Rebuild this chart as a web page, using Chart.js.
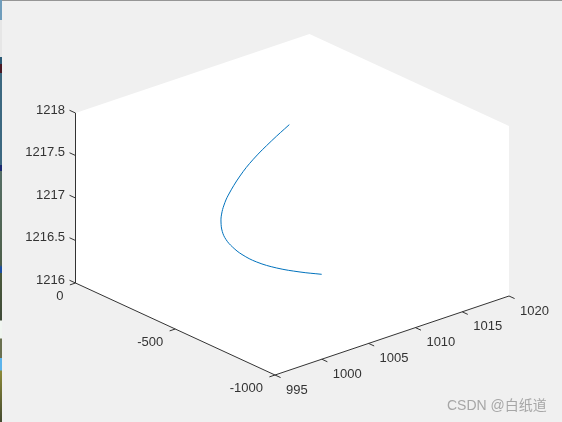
<!DOCTYPE html>
<html>
<head>
<meta charset="utf-8">
<style>
html,body{margin:0;padding:0;background:#f0f0f0;overflow:hidden}
#wrap{position:relative;width:562px;height:422px}
canvas{display:block}
#top{position:absolute;left:0;top:0;width:562px;height:1px;background:#969696}
#left{position:absolute;left:0;top:0;width:2px;height:422px;background:linear-gradient(to bottom,
  #6f9dbc 0,#6f9dbc 20px,#e6e6e6 20px,#e6e6e6 57px,#2b5a75 57px,#2b5a75 64px,#4a1a24 64px,#4a1a24 73px,
  #3c6880 73px,#3c6880 165px,#1a2a70 165px,#1a2a70 171px,#566f66 171px,#4d5f4a 265px,#1c4fa0 267px,#1c4fa0 273px,
  #4a5a3c 273px,#3f4a38 320px,#f0f5f0 321px,#f0f5f0 338px,#6a7050 339px,#6a7050 358px,#5cb4ec 358px,#5cb4ec 370px,
  #8c8a38 371px,#444a30 422px)}
</style>
<script src="https://cdn.jsdelivr.net/npm/chart.js@4"></script>
</head>
<body>
<div id="wrap"><canvas id="c" width="562" height="422"></canvas><div id="top"></div><div id="left"></div></div>
<script>
// Axis values
const xTicks = [995, 1000, 1005, 1010, 1015, 1020];
const yTicks = [0, -500, -1000];
const zTicks = [1216, 1216.5, 1217, 1217.5, 1218];
const xTickLabels = ['995', '1000', '1005', '1010', '1015', '1020'];
const yTickLabels = ['0', '-500', '-1000'];
const zTickLabels = ['1216', '1216.5', '1217', '1217.5', '1218'];

// Curve values
const curveX = [1010, 1010, 1010, 1010, 1010, 1010, 1010, 1009.86, 1009.24, 1008.62, 1008.25, 1008.06, 1008.19, 1008.85, 1009.98, 1011.12];
const curveY = [-368, -279.7, -187.5, -120.8, -62.2, -40.6, -28.6, -32.1, -67.7, -115.4, -165.3, -221.9, -289.4, -358.7, -422.6, -477.7];
const curveZ = [1217.704, 1217.419, 1217.101, 1216.832, 1216.544, 1216.403, 1216.284, 1216.2, 1216.15, 1216.13, 1216.11, 1216.09, 1216.07, 1216.05, 1216.03, 1216.02];

const watermark = 'CSDN @白纸道';

// View projection of the 3-D axes onto the figure plane
const view = {ox: 75.5, oy: 283, xx: 9.36, xy: -3.16, yx: -0.1995, yy: -0.092, zy: -85, x0: 995, y0: 0, z0: 1216};
function project(x, y, z) {
  const dx = x - view.x0, dy = y - view.y0, dz = z - view.z0;
  return {x: view.ox + view.xx * dx + view.yx * dy, y: view.oy + view.xy * dx + view.yy * dy + view.zy * dz};
}
const xMin = xTicks[0], xMax = xTicks[xTicks.length - 1];
const yMax = yTicks[0], yMin = yTicks[yTicks.length - 1];
const zMin = zTicks[0], zMax = zTicks[zTicks.length - 1];

const curvePoints = curveX.map((x, i) => project(x, curveY[i], curveZ[i]));
const edgePoints = [
  project(xMin, yMax, zMax), project(xMin, yMax, zMin), project(xMin, yMin, zMin), project(xMax, yMin, zMin)
];
const tickPoints = [];
const gap = {x: NaN, y: NaN};
xTicks.forEach(t => tickPoints.push(project(t, yMin, zMin), project(t, yMin - 28, zMin), gap));
yTicks.forEach(t => tickPoints.push(project(xMin, t, zMin), project(xMin - 0.6, t, zMin), gap));
zTicks.forEach(t => tickPoints.push(project(xMin, yMax, t), project(xMin, yMax + 30, t), gap));

const backdrop = [
  project(xMin, yMax, zMax), project(xMax, yMax, zMax), project(xMax, yMin, zMax),
  project(xMax, yMin, zMin), project(xMin, yMin, zMin), project(xMin, yMax, zMin)
];

const axesPlugin = {
  id: 'axes3d',
  beforeDatasetsDraw(chart) {
    const {ctx, scales: {x: sx, y: sy}} = chart;
    ctx.save();
    ctx.fillStyle = '#ffffff';
    ctx.beginPath();
    backdrop.forEach((p, i) => {
      const px = sx.getPixelForValue(p.x), py = sy.getPixelForValue(p.y);
      i ? ctx.lineTo(px, py) : ctx.moveTo(px, py);
    });
    ctx.closePath();
    ctx.fill();
    ctx.restore();
  },
  afterDatasetsDraw(chart) {
    const {ctx, scales: {x: sx, y: sy}} = chart;
    ctx.save();
    ctx.font = '13px "Liberation Sans", Arial, sans-serif';
    ctx.fillStyle = '#333333';
    ctx.textBaseline = 'middle';
    const put = (p, dx, dy, s, align) => {
      ctx.textAlign = align;
      ctx.fillText(s, sx.getPixelForValue(p.x) + dx, sy.getPixelForValue(p.y) + dy);
    };
    zTicks.forEach((t, i) => put(project(xMin, yMax, t), -10.5, -3, zTickLabels[i], 'right'));
    yTicks.forEach((t, i) => put(project(xMin, t, zMin), -12, 13.7, yTickLabels[i], 'right'));
    xTicks.forEach((t, i) => put(project(t, yMin, zMin), 11, 15, xTickLabels[i], 'left'));
    ctx.font = '14px "Liberation Sans", "Noto Sans CJK SC", sans-serif';
    ctx.fillStyle = '#a6a6a6';
    ctx.textAlign = 'left';
    ctx.fillText(watermark, 447, 406);
    ctx.restore();
  }
};

new Chart(document.getElementById('c'), {
  type: 'scatter',
  data: {
    datasets: [
      {data: tickPoints, showLine: true, spanGaps: false, borderColor: '#333333', borderWidth: 1, pointRadius: 0},
      {data: edgePoints, showLine: true, borderColor: '#333333', borderWidth: 1, pointRadius: 0},
      {data: curvePoints, showLine: true, borderColor: '#0072BD', borderWidth: 1, pointRadius: 0, tension: 0.4}
    ]
  },
  options: {
    responsive: false,
    animation: false,
    layout: {padding: 0},
    plugins: {legend: {display: false}, tooltip: {enabled: false}},
    scales: {
      x: {type: 'linear', display: false, min: 0, max: 562},
      y: {type: 'linear', display: false, min: 0, max: 422, reverse: true}
    }
  },
  plugins: [axesPlugin]
});
</script>
</body>
</html>
